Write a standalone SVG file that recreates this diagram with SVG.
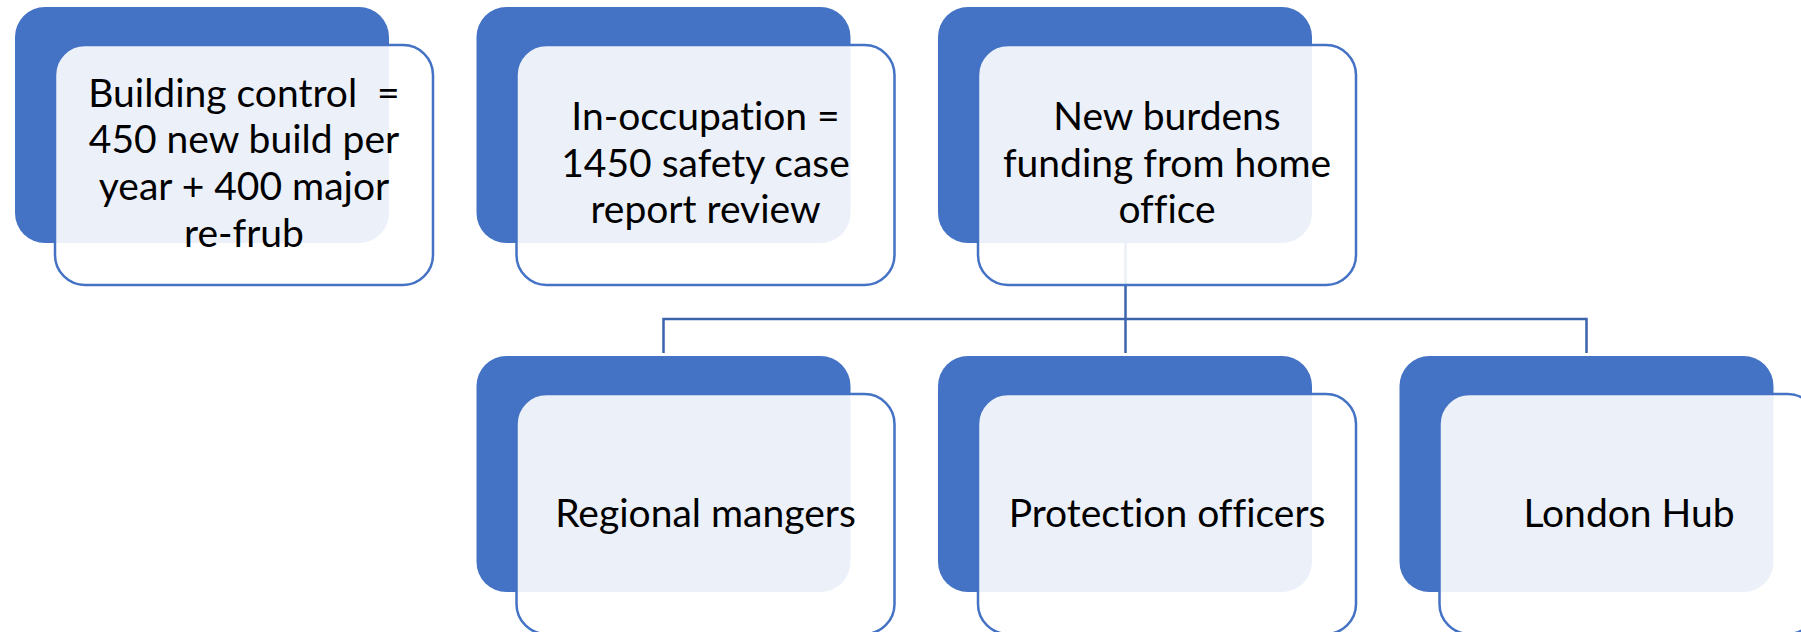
<svg xmlns="http://www.w3.org/2000/svg" width="1801" height="632" viewBox="0 0 1801 632">
<style>
.back{fill:#4472C4}
.front{fill:#FFFFFF;fill-opacity:0.9;stroke:#4472C4;stroke-width:2.5}
.conn{fill:none;stroke:#3B64AD;stroke-width:2.5}
text{font-family:Lato,"Liberation Sans",sans-serif;font-size:39px;fill:#000000;text-anchor:middle;font-variant-ligatures:none;white-space:pre}
</style>
<rect width="1801" height="632" fill="#FFFFFF"/>
<g id="connectors">
<path class="conn" d="M1125.5 243 V353"/>
<path class="conn" d="M663.5 353 V319 H1586.5 V353"/>
</g>
<g id="node-building-control">
<rect class="back" x="15" y="7" width="374" height="236" rx="30"/>
<rect class="front" x="55" y="45" width="378" height="240" rx="30"/>
<text x="244" y="107" xml:space="preserve">Building control  =</text>
<text x="244" y="153">450 new build per</text>
<text x="244" y="200">year + 400 major</text>
<text x="244" y="247">re-frub</text>
</g>
<g id="node-in-occupation">
<rect class="back" x="476.5" y="7" width="374" height="236" rx="30"/>
<rect class="front" x="516.5" y="45" width="378" height="240" rx="30"/>
<text x="705.5" y="130">In-occupation =</text>
<text x="705.5" y="177">1450 safety case</text>
<text x="705.5" y="223">report review</text>
</g>
<g id="node-new-burdens">
<rect class="back" x="938" y="7" width="374" height="236" rx="30"/>
<rect class="front" x="978" y="45" width="378" height="240" rx="30"/>
<text x="1167" y="130">New burdens</text>
<text x="1167" y="177">funding from home</text>
<text x="1167" y="223">office</text>
</g>
<g id="node-regional-mangers">
<rect class="back" x="476.5" y="356" width="374" height="236" rx="30"/>
<rect class="front" x="516.5" y="394" width="378" height="240" rx="30"/>
<text x="705.5" y="527">Regional mangers</text>
</g>
<g id="node-protection-officers">
<rect class="back" x="938" y="356" width="374" height="236" rx="30"/>
<rect class="front" x="978" y="394" width="378" height="240" rx="30"/>
<text x="1167" y="527">Protection officers</text>
</g>
<g id="node-london-hub">
<rect class="back" x="1399.5" y="356" width="374" height="236" rx="30"/>
<rect class="front" x="1439.5" y="394" width="378" height="240" rx="30"/>
<text x="1629" y="527">London Hub</text>
</g>
</svg>
